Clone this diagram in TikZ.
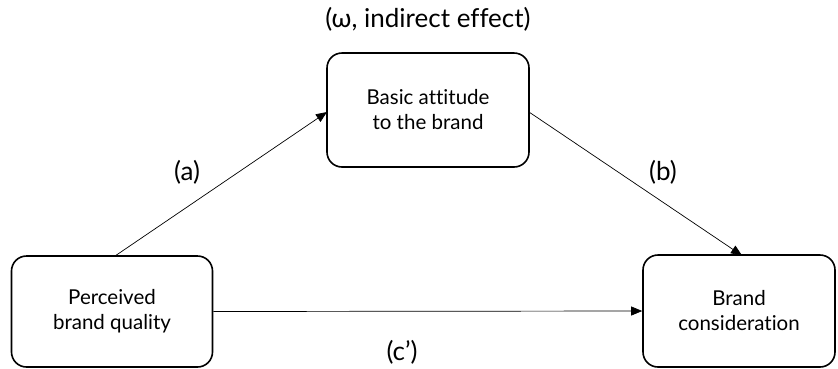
\documentclass[tikz,border=0pt]{standalone}
\usepackage{fontspec}
\setmainfont[Ligatures=NoCommon]{Lato}
\usetikzlibrary{arrows.meta}
\begin{document}
\begin{tikzpicture}[x=1pt,y=-1pt,
  box/.style={draw,line width=1.6pt,rounded corners=15pt,align=center,font=\fontsize{20.5}{25}\selectfont},
  conn/.style={line width=0.7pt,-{Triangle[length=11pt,width=9pt]}},
  lbl/.style={font=\fontsize{26}{30}\selectfont}]
\useasboundingbox (0,0) rectangle (838,368);
\node[box,minimum width=201pt,minimum height=111pt] (pbq) at (112,311.5) {Perceived\\brand quality};
\node[box,minimum width=202pt,minimum height=114pt] (att) at (428,110) {Basic attitude\\to the brand};
\node[box,minimum width=192pt,minimum height=112pt] (bc) at (739,311) {Brand\\consideration};
\node[lbl] (title) at (428,19) {(ω, indirect effect)};
\node[lbl] (la) at (187,172) {(a)};
\node[lbl] (lb) at (663,172) {(b)};
\node[lbl] (lc) at (402,352) {(c’)};
\coordinate (s1) at (115,256);
\coordinate (e1) at (327,112);
\coordinate (s2) at (529,112);
\coordinate (e2) at (742,255.5);
\draw[conn] (s1) -- (e1);
\draw[conn] (s2) -- (e2);
\draw[conn] (pbq.east) -- (bc.west);
\end{tikzpicture}
\end{document}
